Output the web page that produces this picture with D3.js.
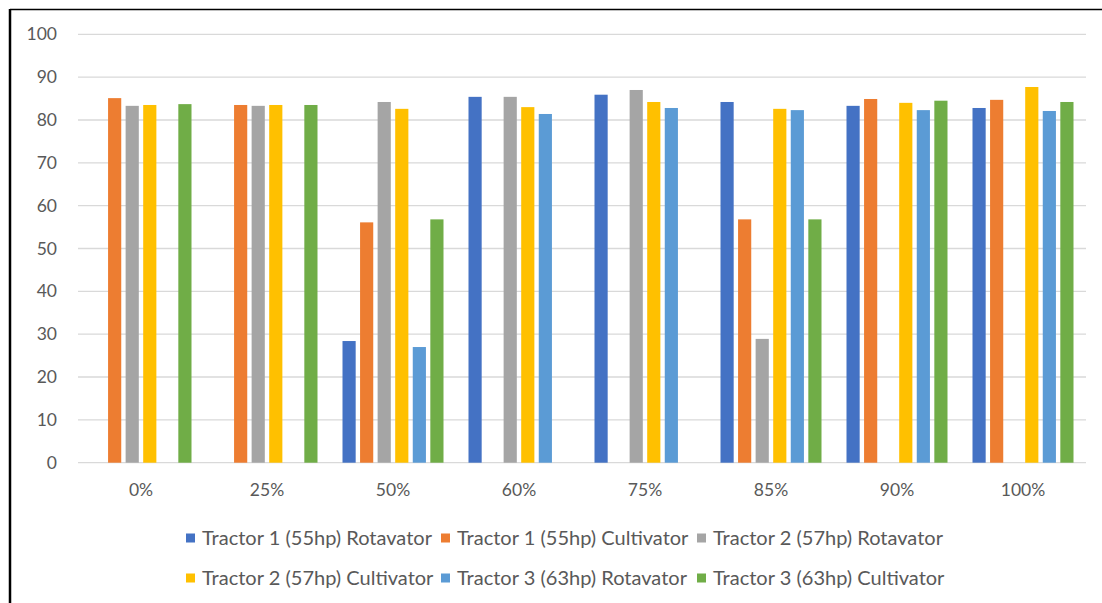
<!DOCTYPE html>
<html>
<head>
<meta charset="utf-8">
<script src="https://cdn.jsdelivr.net/npm/d3@7"></script>
<style>
  html, body { margin: 0; padding: 0; background: #fff; }
  svg { display: block; }
  text { font-family: Lato, "Open Sans", sans-serif; fill: #595959; }
</style>
</head>
<body>
<svg id="chart" width="1102" height="603"></svg>
<script>
// Load levels on the x axis
const categories = ["0%", "25%", "50%", "60%", "75%", "85%", "90%", "100%"];

const seriesNames = [
  "Tractor 1 (55hp) Rotavator",
  "Tractor 1 (55hp) Cultivator",
  "Tractor 2 (57hp) Rotavator",
  "Tractor 2 (57hp) Cultivator",
  "Tractor 3 (63hp) Rotavator",
  "Tractor 3 (63hp) Cultivator"
];

// One value per load level; null where no bar is drawn
const tractor1Rotavator  = [null, null, 28.4, 85.4, 85.9, 84.2, 83.3, 82.8];
const tractor1Cultivator = [85.1, 83.5, 56.1, null, null, 56.8, 84.9, 84.7];
const tractor2Rotavator  = [83.3, 83.3, 84.2, 85.4, 87.0, 28.9, null, null];
const tractor2Cultivator = [83.5, 83.5, 82.6, 83.0, 84.2, 82.6, 84.0, 87.7];
const tractor3Rotavator  = [null, null, 27.0, 81.4, 82.8, 82.3, 82.3, 82.1];
const tractor3Cultivator = [83.7, 83.5, 56.8, null, null, 56.8, 84.5, 84.2];

const yTicks = [0, 10, 20, 30, 40, 50, 60, 70, 80, 90, 100];

const colors = ["#4472C4", "#ED7D31", "#A5A5A5", "#FFC000", "#5B9BD5", "#70AD47"];

const seriesValues = [
  tractor1Rotavator, tractor1Cultivator, tractor2Rotavator,
  tractor2Cultivator, tractor3Rotavator, tractor3Cultivator
];

const svg = d3.select("#chart");

// Chart frame (top and left edges)
svg.append("line").attr("x1", 10).attr("x2", 1102).attr("y1", 9.5).attr("y2", 9.5)
  .attr("stroke", "#000").attr("stroke-width", 1.5);
svg.append("line").attr("x1", 10).attr("x2", 10).attr("y1", 9).attr("y2", 603)
  .attr("stroke", "#000").attr("stroke-width", 2.5);

const plot = { left: 78, right: 1086, top: 34.3, bottom: 462.7 };

const x0 = d3.scaleBand().domain(categories).range([plot.left, plot.right]);
const x1 = d3.scaleBand().domain(d3.range(seriesNames.length))
  .range([12.5, x0.bandwidth() - 12.5]).paddingInner(0.25);
const y = d3.scaleLinear().domain([0, 100]).range([plot.bottom, plot.top]);

// Gridlines
svg.append("g").selectAll("line").data(yTicks).join("line")
  .attr("x1", plot.left).attr("x2", plot.right)
  .attr("y1", d => y(d)).attr("y2", d => y(d))
  .attr("stroke", "#d9d9d9").attr("stroke-width", 1.3);

const axisFont = 17.5;

// Y axis labels
const yAxis = d3.axisLeft(y).tickValues(yTicks).tickSize(0).tickPadding(0);
const gy = svg.append("g").attr("transform", `translate(57,0)`).call(yAxis);
gy.select(".domain").remove();
gy.selectAll("text").attr("font-size", axisFont).attr("fill", "#595959")
  .style("font-family", "Lato, 'Open Sans', sans-serif");

// Bars
const rows = categories.map((c, i) => ({ cat: c, vals: seriesValues.map(s => s[i]) }));
const groups = svg.append("g").selectAll("g").data(rows).join("g")
  .attr("transform", d => `translate(${x0(d.cat)},0)`);
groups.selectAll("rect")
  .data(d => d.vals.map((v, k) => ({ k, v })).filter(e => e.v != null))
  .join("rect")
  .attr("x", d => x1(d.k))
  .attr("width", x1.bandwidth())
  .attr("y", d => y(d.v))
  .attr("height", d => y(0) - y(d.v))
  .attr("fill", d => colors[d.k]);

// X axis labels
const xAxis = d3.axisBottom(x0).tickSize(0).tickPadding(0);
const gx = svg.append("g").attr("transform", `translate(0,${plot.bottom + 21})`).call(xAxis);
gx.select(".domain").remove();
gx.selectAll("text").attr("font-size", axisFont).attr("fill", "#595959")
  .style("font-family", "Lato, 'Open Sans', sans-serif");

// Legend: two rows of three entries, label size fitted to the column width
const legendRows = [[0, 1, 2], [3, 4, 5]];
const legendY = [538, 578];
const colX = [186, 441, 697];
const labelWidth = 230;
const probe = svg.append("text").attr("font-size", 20).text(seriesNames[0]);
const legendFont = 20 * labelWidth / probe.node().getComputedTextLength();
probe.remove();

legendRows.forEach((r, ri) => {
  r.forEach((k, ci) => {
    const g = svg.append("g").attr("transform", `translate(${colX[ci]},${legendY[ri]})`);
    g.append("rect").attr("x", 0).attr("y", -4.5).attr("width", 9).attr("height", 9)
      .attr("fill", colors[k]);
    g.append("text").attr("x", 16).attr("y", 0).attr("dy", "0.36em")
      .attr("font-size", legendFont).text(seriesNames[k]);
  });
});
</script>
</body>
</html>
